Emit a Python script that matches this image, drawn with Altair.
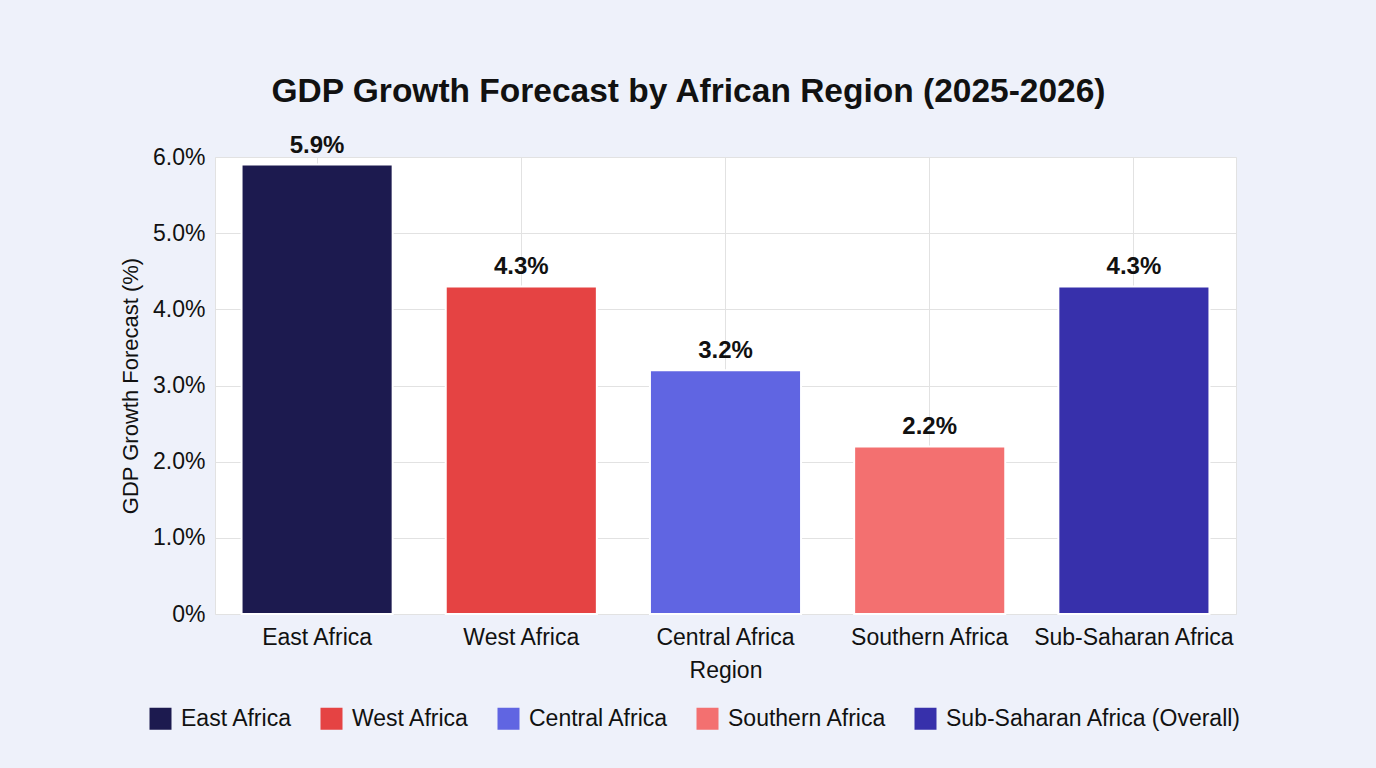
import altair as alt
import pandas as pd

regions = ["East Africa", "West Africa", "Central Africa", "Southern Africa", "Sub-Saharan Africa"]
legend_names = ["East Africa", "West Africa", "Central Africa", "Southern Africa", "Sub-Saharan Africa (Overall)"]
growth = [5.9, 4.3, 3.2, 2.2, 4.3]
colors = ["#1C1A4F", "#E54343", "#6065E2", "#F37070", "#3730AB"]

df = pd.DataFrame({"region": regions, "series": legend_names, "growth": growth})
df["label"] = [f"{v:.1f}%" for v in growth]

FONT = "Liberation Sans"

x = alt.X(
    "region:N",
    sort=regions,
    title="Region",
    scale=alt.Scale(paddingInner=0.26, paddingOuter=0.13),
    axis=alt.Axis(
        labelAngle=0, labelFontSize=23, labelPadding=12, ticks=False, domain=False,
        labelLimit=0,
        titleFontSize=23, titleFontWeight="normal", titlePadding=10,
        grid=True, gridColor="#E2E2E2", labelColor="#111", titleColor="#111",
    ),
)
y = alt.Y(
    "growth:Q",
    title="GDP Growth Forecast (%)",
    scale=alt.Scale(domain=[0, 6], nice=False),
    axis=alt.Axis(
        values=[0, 1, 2, 3, 4, 5, 6],
        labelExpr="datum.value == 0 ? '0%' : format(datum.value, '.1f') + '%'",
        labelFontSize=23, labelPadding=10, ticks=False, domain=False,
        titleFontSize=22, titleFontWeight="normal", titlePadding=10,
        gridColor="#E2E2E2", labelColor="#111", titleColor="#111",
    ),
)

bars = alt.Chart(df).mark_bar(stroke="white", strokeWidth=2).encode(
    x=x,
    y=y,
    color=alt.Color(
        "series:N",
        scale=alt.Scale(domain=legend_names, range=colors),
        legend=alt.Legend(
            title=None, orient="none", direction="horizontal",
            legendX=-66, legendY=550,
            symbolType="square", symbolSize=484, symbolStrokeWidth=0, symbolOpacity=1,
            labelFontSize=23, labelColor="#111", labelOffset=9, columnPadding=27,
            labelLimit=0,
        ),
    ),
)

text = alt.Chart(df).mark_text(
    baseline="bottom", dy=-7, fontSize=24, fontWeight="bold", color="#111"
).encode(
    x=alt.X("region:N", sort=regions),
    y=alt.Y("growth:Q"),
    text="label:N",
)

chart = (
    alt.layer(bars, text)
    .properties(
        width=1021,
        height=457,
        autosize=alt.AutoSizeParams(type="none"),
        padding={"left": 215, "top": 157, "right": 140, "bottom": 154},
        background="#EEF1FA",
        title=alt.Title(
            "GDP Growth Forecast by African Region (2025-2026)",
            fontSize=33.5, fontWeight="bold", color="#111", anchor="middle",
            dx=-37, offset=24, font=FONT,
        ),
    )
    .configure(font=FONT)
    .configure_view(fill="white", stroke="#E2E2E2")
)

chart.save("out.html", embed_options={"renderer": "svg", "actions": False})
